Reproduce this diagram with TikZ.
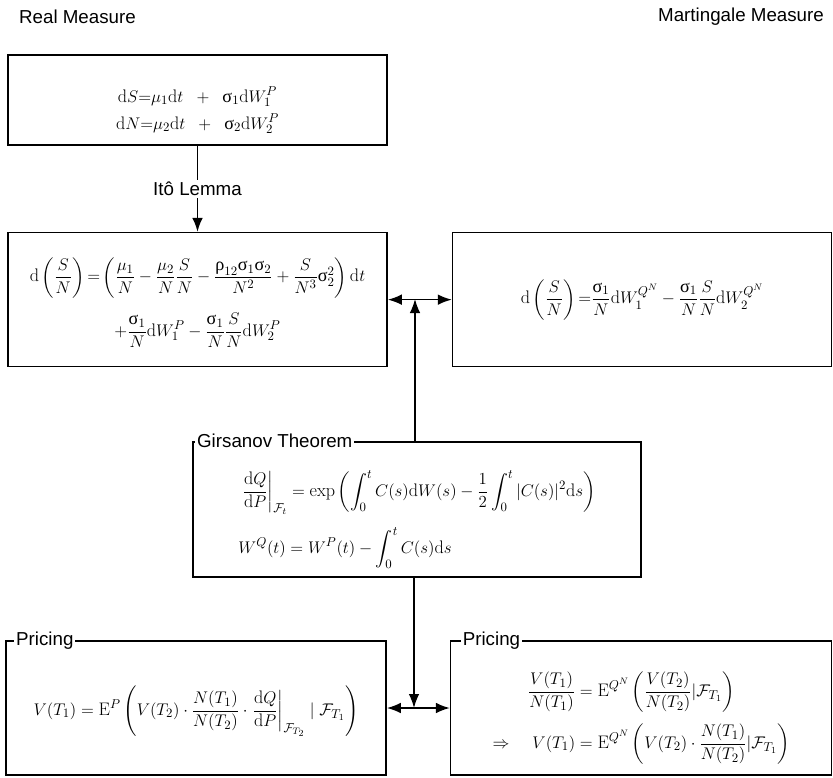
\documentclass[tikz,border=0pt]{standalone}
\usepackage{amsmath}
\usepackage{fontspec}
\setsansfont{Liberation Sans}
\newfontfamily\grkfont{Liberation Serif}
\usetikzlibrary{arrows.meta,positioning}
\newcommand{\diffd}{\mathrm{d}}
\newcommand{\usig}{\mathord{\text{\grkfont σ}}}
\newcommand{\urho}{\mathord{\text{\grkfont ρ}}}

\begin{document}
\begin{tikzpicture}[
  x=0.03cm, y=-0.03cm,
  box/.style={draw, line width=1.4pt, minimum width=11.37cm, minimum height=4.02cm, inner sep=0pt},
  eq/.style={align=center, inner sep=0pt, font=\fontsize{15.5}{18}\selectfont},
  tag/.style={fill=white, anchor=west, inner sep=1.5pt, font=\sffamily\fontsize{16}{18}\selectfont},
  head/.style={font=\sffamily\fontsize{16}{18}\selectfont},
  arrow/.style={-{Latex[length=4.2mm,width=3.2mm]}, line width=1.4pt},
  dblarrow/.style={{Latex[length=4.2mm,width=3.2mm]}-{Latex[length=4.2mm,width=3.2mm]}, line width=1.4pt}
]
\useasboundingbox (0,0) rectangle (833,778);

\node[head, anchor=west] (real) at (15,17) {Real Measure};
\node[head, anchor=east] (martingale) at (828,17) {Martingale Measure};

% boxes
\node[box, minimum height=2.7cm] (sde) at (197.5,100) {};
\node[box, below=2.58cm of sde] (ratio) {};
\node[box, right=1.92cm of ratio] (ratioQ) {};
\node[box, minimum width=13.44cm, minimum height=4.05cm] (girs) at (417,509.5) {};
\node[box, minimum width=11.4cm] (priceP) at (196,708) {};
\node[box, minimum width=11.43cm, right=1.89cm of priceP] (priceQ) {};

% titles on the frames
\node[tag] (girsT) at ([xshift=0.09cm]girs.north west) {Girsanov Theorem};
\node[tag] (pricePT) at ([xshift=0.27cm]priceP.north west) {Pricing};
\node[tag] (priceQT) at ([xshift=0.33cm]priceQ.north west) {Pricing};

% formulas
\node[eq] (sdeEq) at ([yshift=-0.33cm]sde.center) {$\begin{gathered}
  \diffd S{=}\mu_1\diffd t\;\;+\;\;\usig_1\diffd W_1^P\\[0pt]
  \diffd N{=}\mu_2\diffd t\;\;+\;\;\usig_2\diffd W_2^P
\end{gathered}$};
\node[eq] (ratioEq) at ([yshift=-0.09cm]ratio.center) {$\begin{gathered}
  \diffd\left(\frac{S}{N}\right){=}\left(\frac{\mu_1}{N}-\frac{\mu_2}{N}\frac{S}{N}-\frac{\urho_{12}\usig_1\usig_2}{N^2}+\frac{S}{N^3}\usig_2^2\right)\diffd t\\[9pt]
  +\frac{\usig_1}{N}\diffd W_1^P-\frac{\usig_1}{N}\frac{S}{N}\diffd W_2^P
\end{gathered}$};
\node[eq] (ratioQEq) at (ratioQ.center) {$\displaystyle
  \diffd\left(\frac{S}{N}\right){=}\frac{\usig_1}{N}\diffd W_1^{Q^N}-\frac{\usig_1}{N}\frac{S}{N}\diffd W_2^{Q^N}$};
\node[eq] (girsEq) at ([yshift=-0.3cm]girs.center) {$\begin{aligned}
  &\left.\frac{\diffd Q}{\diffd P}\right|_{\mathcal{F}_t}=\exp\left(\int_0^t C(s)\diffd W(s)-\frac{1}{2}\int_0^t|C(s)|^2\diffd s\right)\\[7pt]
  &W^Q(t)=W^P(t)-\int_0^t C(s)\diffd s
\end{aligned}$};
\node[eq] (pricePEq) at ([yshift=-0.1cm]priceP.center) {$\displaystyle
  V(T_1)=\mathrm{E}^P\left(V(T_2)\cdot\frac{N(T_1)}{N(T_2)}\cdot\left.\frac{\diffd Q}{\diffd P}\right|_{\mathcal{F}_{T_2}}\mid\mathcal{F}_{T_1}\right)$};
\node[eq] (priceQEq) at ([yshift=-0.3cm]priceQ.center) {$\begin{aligned}
  \frac{V(T_1)}{N(T_1)}&=\mathrm{E}^{Q^N}\left(\frac{V(T_2)}{N(T_2)}|\mathcal{F}_{T_1}\right)\\[6pt]
  \Rightarrow\quad V(T_1)&=\mathrm{E}^{Q^N}\left(V(T_2)\cdot\frac{N(T_1)}{N(T_2)}|\mathcal{F}_{T_1}\right)
\end{aligned}$};

\coordinate (topjoin) at (415,299);
\coordinate (botjoin) at (414,708);

\draw[arrow] (sde) -- node[fill=white, inner sep=2pt, font=\sffamily\fontsize{16}{18}\selectfont] {Itô Lemma} (ratio);
\draw[dblarrow] (ratio) -- (ratioQ);
\draw[arrow] (topjoin |- girs.north) -- (topjoin);
\draw[dblarrow] (priceP) -- (priceQ);
\draw[arrow] (botjoin |- girs.south) -- (botjoin);
\end{tikzpicture}
\end{document}
